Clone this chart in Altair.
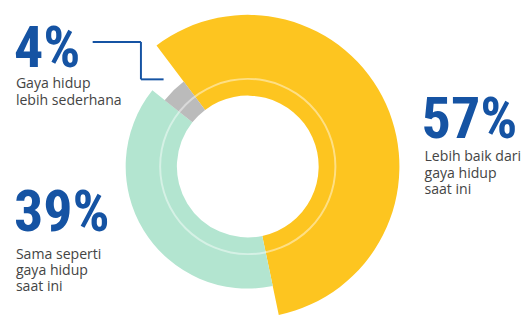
import math
import altair as alt
import pandas as pd

# ---- data ----
keys = ["better", "same", "simpler"]
values = [57, 39, 4]
pct_labels = ["57%", "39%", "4%"]
desc_lines = [
    ["Lebih baik dari", "gaya hidup", "saat ini"],
    ["Sama seperti", "gaya hidup", "saat ini"],
    ["Gaya hidup", "lebih sederhana"],
]
colors = ["#FDC520", "#B3E5D0", "#BBBBBB"]

df = pd.DataFrame({"key": keys, "value": values, "order": [0, 1, 2]})

W, H = 487, 317
BLUE = "#1553A3"
GREY_TXT = "#444444"
BIG_FONT = "Roboto Condensed"
BODY_FONT = "Open Sans"
BIG_SIZE = 59

start = math.radians(-37)
theta_scale = alt.Scale(domain=[0, 100], range=[start, start + 2 * math.pi])

base = alt.Chart(df).transform_window(
    cum="sum(value)", sort=[alt.SortField("order")], frame=[None, 0]
).transform_calculate(begin="datum.cum - datum.value")

outer_r = [154, 124, 108]
layers = []
for k, c, r in zip(keys, colors, outer_r):
    layers.append(
        base.transform_filter(alt.datum.key == k)
        .mark_arc(radius=r, radius2=72, color=c)
        .encode(
            theta=alt.Theta("begin:Q", scale=theta_scale),
            theta2="cum:Q",
        )
    )

# thin translucent ring
ring = (
    alt.Chart(pd.DataFrame({"a": [0]}))
    .mark_arc(radius=90, radius2=88, color="white", opacity=0.45)
    .encode(theta=alt.value(0), theta2=alt.value(2 * math.pi))
)
layers.append(ring)

one = pd.DataFrame({"a": [0]})


def big(txt, x, y):
    return alt.Chart(one).mark_text(
        text=txt, font=BIG_FONT, fontWeight="bold", fontSize=BIG_SIZE, color=BLUE,
        align="left", baseline="alphabetic",
    ).encode(x=alt.value(x), y=alt.value(y))


def body(lines, x, y):
    return alt.Chart(one).mark_text(
        text=lines, font=BODY_FONT, fontSize=14.3, color=GREY_TXT, lineHeight=16.7,
        align="left", baseline="alphabetic",
    ).encode(x=alt.value(x), y=alt.value(y))


layers += [
    big(pct_labels[0], 420, 130),
    body(desc_lines[0], 423, 153),
    big(pct_labels[1], 6, 224),
    body(desc_lines[1], 8, 252),
    big(pct_labels[2], 6, 57),
    body(desc_lines[2], 8, 79),
]

# leader line for the 4% label
segs = [
    (86, 135, 32, 32),
    (135, 135, 32, 70),
    (135, 158, 70, 70),
]
for x1, x2, y1, y2 in segs:
    layers.append(
        alt.Chart(one).mark_rule(color=BLUE, strokeWidth=2)
        .encode(x=alt.value(x1), x2=alt.value(x2), y=alt.value(y1), y2=alt.value(y2))
    )

chart = (
    alt.layer(*layers)
    .properties(
        width=W, height=H,
        padding={"left": 0, "top": 0, "right": 35, "bottom": 0},
        autosize=alt.AutoSizeParams(type="none"),
    )
    .configure_view(stroke=None)
)

chart.save("out.html", embed_options={"renderer": "svg", "actions": False})
